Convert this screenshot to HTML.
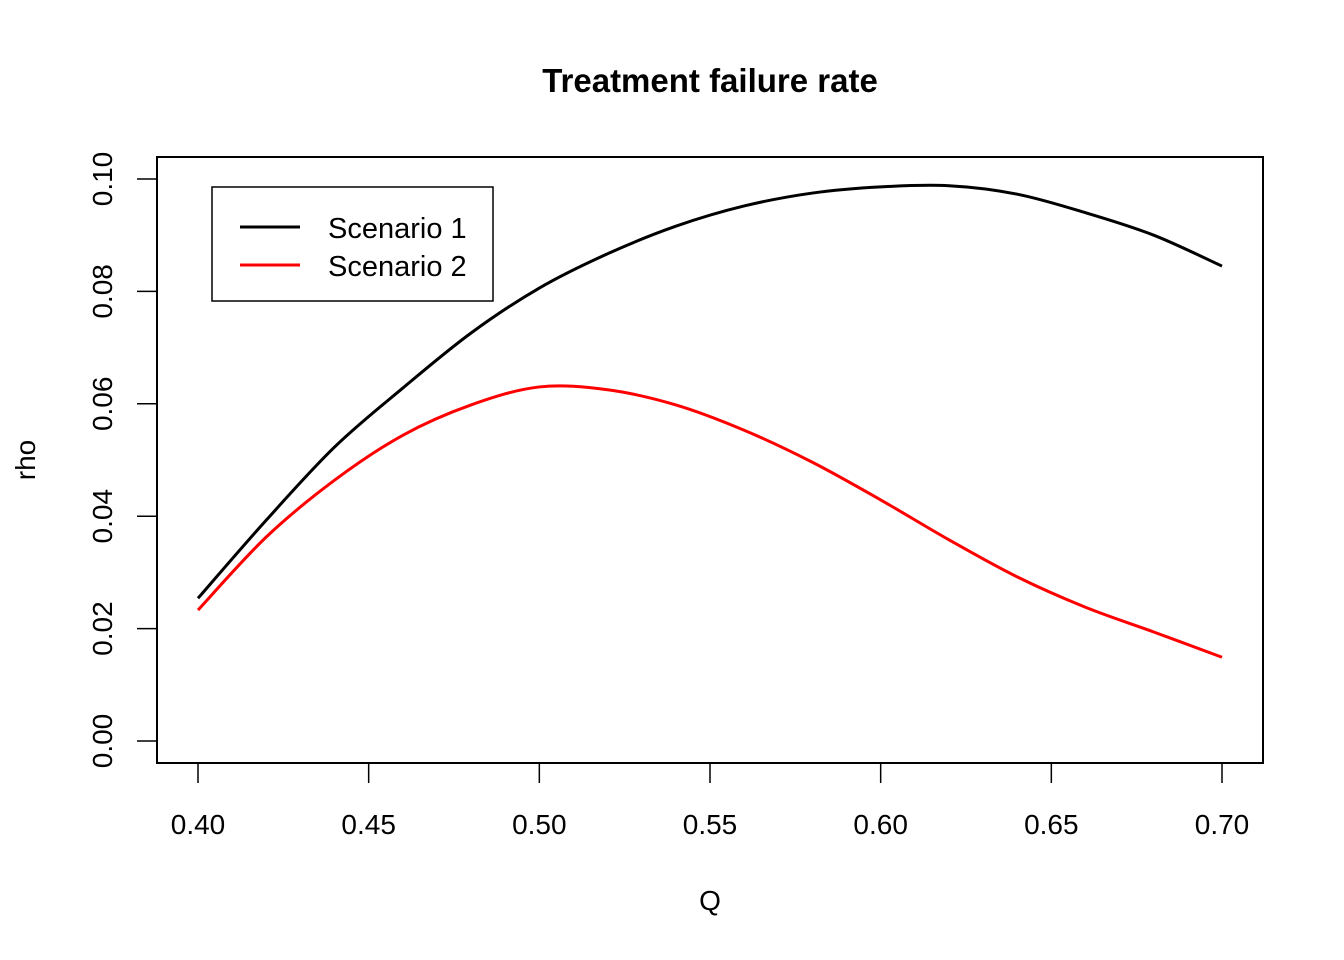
<!DOCTYPE html>
<html><head><meta charset="utf-8"><style>
body{margin:0;background:#fff}
svg{display:block;font-family:"Liberation Sans",Arial,sans-serif}
</style></head><body>
<svg id="chart" width="1344" height="960">
<text x="710" y="92" text-anchor="middle" font-size="33" font-weight="bold">Treatment failure rate</text>
<rect x="157" y="157" width="1106" height="606" fill="none" stroke="#000" stroke-width="2"/>
<g id="xaxis"></g>
<g id="yaxis"></g>
<g id="series"></g>
<text x="710" y="910" text-anchor="middle" font-size="28">Q</text>
<text transform="translate(35,460) rotate(-90)" text-anchor="middle" font-size="28">rho</text>
<g>
<rect x="212" y="187" width="281" height="114" fill="#fff" stroke="#000" stroke-width="1.5"/>
<g>
<line x1="240" y1="227" x2="300" y2="227" stroke="#000" stroke-width="3"/>
<text x="328" y="238" font-size="29">Scenario 1</text></g>
<g>
<line x1="240" y1="265" x2="300" y2="265" stroke="#f00" stroke-width="3"/>
<text x="328" y="276" font-size="29">Scenario 2</text></g>
</g>
</svg>
<script>
const qValues=[0.40,0.42,0.44,0.46,0.48,0.50,0.52,0.54,0.56,0.58,0.60,0.62,0.64,0.66,0.68,0.70];
const scenario1=[0.0254,0.0393,0.0523,0.0628,0.0726,0.0806,0.0867,0.0916,0.0952,0.0975,0.0986,0.0988,0.0973,0.0940,0.0900,0.0845];
const scenario2=[0.0233,0.0363,0.0464,0.0544,0.0598,0.0630,0.0625,0.0598,0.0553,0.0496,0.0429,0.0358,0.0292,0.0238,0.0194,0.0149];
const xTicks=["0.40","0.45","0.50","0.55","0.60","0.65","0.70"];
const yTicks=["0.00","0.02","0.04","0.06","0.08","0.10"];
const NS="http://www.w3.org/2000/svg";
const xs=v=>198+(v-0.40)/0.30*1024;
const ys=v=>741-v/0.10*562;
function mk(t,a,p){const e=document.createElementNS(NS,t);for(const k in a)e.setAttribute(k,a[k]);p.appendChild(e);return e;}
const xa=document.getElementById('xaxis'),ya=document.getElementById('yaxis'),sg=document.getElementById('series');
mk('line',{x1:xs(0.40),x2:xs(0.70),y1:763,y2:763,stroke:'#000','stroke-width':1.5},xa);
xTicks.forEach(t=>{const x=xs(parseFloat(t));
const l=mk('line',{x1:x,x2:x,y1:763,y2:783,stroke:'#000','stroke-width':1.5},xa);


const tx=mk('text',{x:x,y:834,'text-anchor':'middle','font-size':28},xa);tx.textContent=t;

});
mk('line',{x1:157,x2:157,y1:ys(0),y2:ys(0.10),stroke:'#000','stroke-width':1.5},ya);
yTicks.forEach(t=>{const y=ys(parseFloat(t));
const l=mk('line',{x1:137,x2:157,y1:y,y2:y,stroke:'#000','stroke-width':1.5},ya);


const tx=mk('text',{transform:`translate(112,${y}) rotate(-90)`,'text-anchor':'middle','font-size':28},ya);tx.textContent=t;

});
function line(vals,col,name){
const P=qValues.map((q,i)=>[xs(q),ys(vals[i])]);
let d='M'+P[0][0]+','+P[0][1];
for(let i=0;i<P.length-1;i++){const p0=P[Math.max(0,i-1)],p1=P[i],p2=P[i+1],p3=P[Math.min(P.length-1,i+2)];
d+=` C${p1[0]+(p2[0]-p0[0])/6},${p1[1]+(p2[1]-p0[1])/6} ${p2[0]-(p3[0]-p1[0])/6},${p2[1]-(p3[1]-p1[1])/6} ${p2[0]},${p2[1]}`;}
const p=mk('path',{d:d,fill:'none',stroke:col,'stroke-width':3,'stroke-linejoin':'round'},sg);

}
line(scenario1,'#000','scenario-1-line');
line(scenario2,'#f00','scenario-2-line');
</script>
</body></html>
